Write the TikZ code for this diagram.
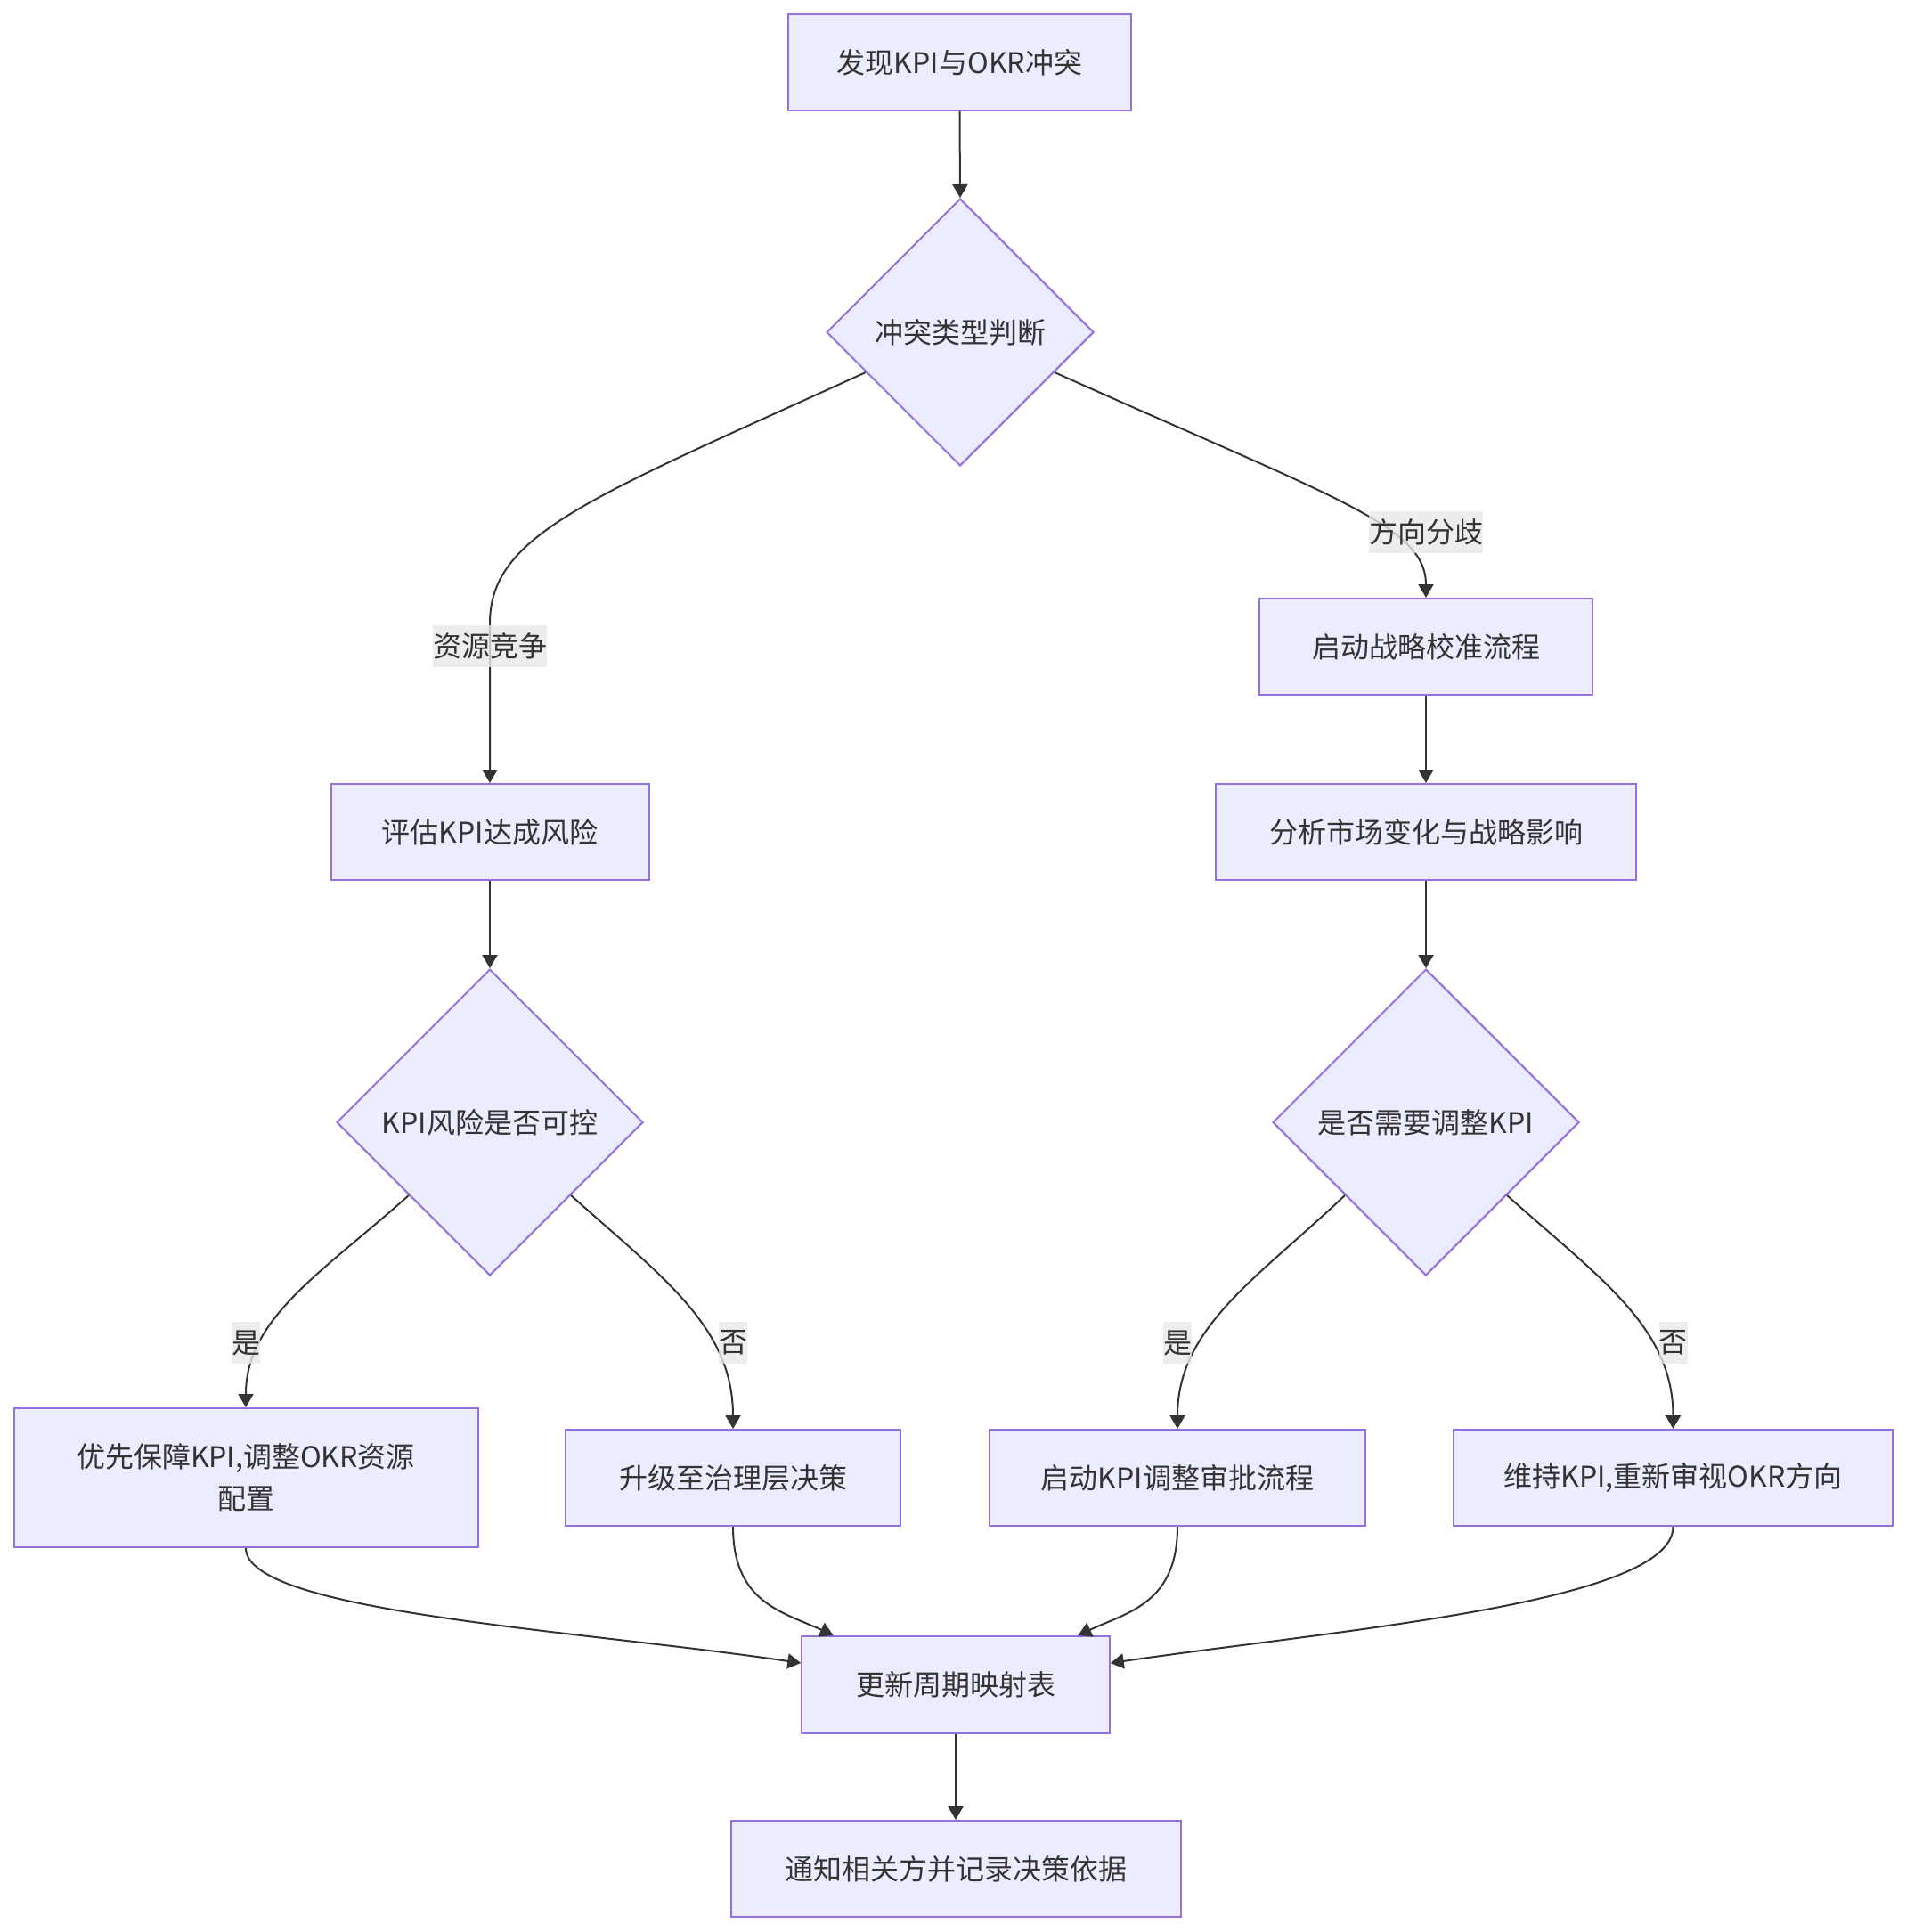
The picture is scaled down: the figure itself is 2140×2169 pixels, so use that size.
\documentclass[tikz,border=0pt]{standalone}
\usepackage{fontspec}
\setmainfont{Noto Sans CJK SC}
\usetikzlibrary{shapes.geometric,arrows.meta}
\definecolor{nodefill}{HTML}{ECECFF}
\definecolor{nodeline}{HTML}{9370DB}
\definecolor{ink}{HTML}{333333}
\definecolor{lblbg}{HTML}{E8E8E8}
\begin{document}
\begin{tikzpicture}[x=1pt,y=-1pt,
  box/.style={draw=nodeline,fill=nodefill,line width=2pt,inner sep=0pt,text=ink,
    font=\fontsize{32}{47}\selectfont,align=center},
  dia/.style={box,diamond,minimum width=#1,minimum height=#1},
  elabel/.style={fill=lblbg,fill opacity=0.8,text opacity=1,text=ink,inner sep=0pt,
    minimum height=47pt,font=\fontsize{32}{47}\selectfont},
  edge/.style={draw=ink,line width=2pt,-{Triangle[length=15pt,width=17pt]}},
]
\useasboundingbox (0,0) rectangle (2140,2169);

% nodes
\node[box,minimum width=385pt,minimum height=108pt] (A) at (1077.5,70) {发现KPI与OKR冲突};
\node[dia=300pt] (B) at (1078,373) {冲突类型判断};
\node[box,minimum width=357pt,minimum height=108pt] (C) at (550,934) {评估KPI达成风险};
\node[box,minimum width=374pt,minimum height=108pt] (D) at (1601,726) {启动战略校准流程};
\node[box,minimum width=472pt,minimum height=108pt] (E) at (1601,934) {分析市场变化与战略影响};
\node[dia=344pt] (F) at (550,1260) {KPI风险是否可控};
\node[dia=344pt] (G) at (1601,1260) {是否需要调整KPI};
\node[box,minimum width=521pt,minimum height=156pt] (H) at (276,1659) {优先保障KPI,调整OKR资源\\配置};
\node[box,minimum width=376pt,minimum height=108pt] (I) at (823,1659) {升级至治理层决策};
\node[box,minimum width=422pt,minimum height=108pt] (J) at (1322,1659) {启动KPI调整审批流程};
\node[box,minimum width=493pt,minimum height=108pt] (K) at (1878.5,1659) {维持KPI,重新审视OKR方向};
\node[box,minimum width=345.5pt,minimum height=109pt] (L) at (1073,1891.5) {更新周期映射表};
\node[box,minimum width=505pt,minimum height=108pt] (M) at (1073,2098) {通知相关方并记录决策依据};

% connectors
\draw[edge] (A.south) -- (B.north);
\draw[edge] (B.203) .. controls (660,560) and (550,600) .. (550,700) -- (C.north);
\draw[edge] (B.337) .. controls (1500,560) and (1601,590) .. (D.north);
\draw[edge] (C.south) -- (F.north);
\draw[edge] (D.south) -- (E.north);
\draw[edge] (E.south) -- (G.north);
\draw[edge] (F.222) .. controls (360,1430) and (276,1480) .. (H.north);
\draw[edge] (F.318) .. controls (745,1435) and (823,1490) .. (I.north);
\draw[edge] (G.222) .. controls (1412,1435) and (1322,1490) .. (J.north);
\draw[edge] (G.318) .. controls (1796,1435) and (1878.5,1490) .. (K.north);
\draw[edge] (H.south) .. controls (276,1810) and (650,1830) .. (L.172);
\draw[edge] (I.south) .. controls (823,1800) and (880,1810) .. (L.158);
\draw[edge] (J.south) .. controls (1322,1800) and (1266,1810) .. (L.22);
\draw[edge] (K.south) .. controls (1878.5,1800) and (1500,1830) .. (L.8);
\draw[edge] (L.south) -- (M.north);

% edge labels
\node[elabel] (l1) at (550,725.5) {资源竞争};
\node[elabel] (l2) at (1601,597.5) {方向分歧};
\node[elabel] (l3) at (276,1507.5) {是};
\node[elabel] (l4) at (823,1507.5) {否};
\node[elabel] (l5) at (1322,1507.5) {是};
\node[elabel] (l6) at (1878.5,1507.5) {否};
\end{tikzpicture}
\end{document}
